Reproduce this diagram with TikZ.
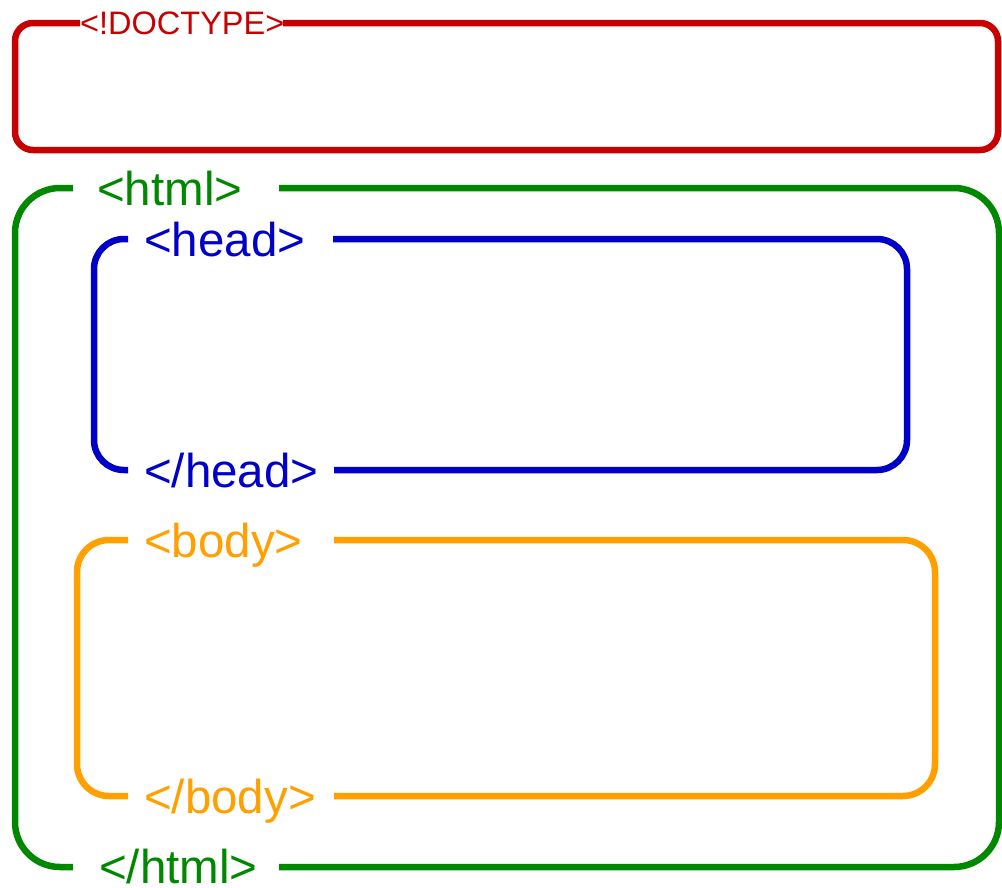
\documentclass[tikz,border=0pt]{standalone}
\usepackage{fontspec}
\setmainfont{Liberation Sans}
\definecolor{tagred}{RGB}{200,0,0}
\definecolor{taggreen}{RGB}{0,136,0}
\definecolor{tagblue}{RGB}{0,0,200}
\definecolor{tagorange}{RGB}{255,160,0}
\begin{document}
\begin{tikzpicture}[x=1pt,y=-1pt,
  frame/.style={line width=6.5pt,line cap=butt,line join=round},
  tag/.style={inner sep=0pt,anchor=base west,font=\fontsize{47.5}{50}\selectfont},
  smalltag/.style={inner sep=0pt,anchor=base west,font=\fontsize{32.5}{36}\selectfont}]
\useasboundingbox[fill=white] (0,0) rectangle (1002,887);
% DOCTYPE
\draw[frame,tagred,rounded corners=18] (283,23) -- (998,23) -- (998,150) -- (15,150) -- (15,23) -- (80,23);
\node[smalltag,text=tagred] (doctype) at (80,34.5) {<!DOCTYPE>};
% html
\draw[frame,taggreen,rounded corners=45] (279,188) -- (999,188) -- (999,867) -- (279,867);
\draw[frame,taggreen,rounded corners=45] (73,188) -- (15,188) -- (15,867) -- (73,867);
\node[tag,text=taggreen] (html) at (97,205) {<html>};
\node[tag,text=taggreen] (htmlend) at (99,883) {</html>};
% head
\draw[frame,tagblue,rounded corners=30] (333,239) -- (907,239) -- (907,470) -- (334,470);
\draw[frame,tagblue,rounded corners=30] (128,239) -- (94,239) -- (94,470) -- (128,470);
\node[tag,text=tagblue] (head) at (144,256) {<head>};
\node[tag,text=tagblue] (headend) at (144,487) {</head>};
% body
\draw[frame,tagorange,rounded corners=32] (334,540) -- (935,540) -- (935,796) -- (334,796);
\draw[frame,tagorange,rounded corners=32] (128,540) -- (77,540) -- (77,796) -- (128,796);
\node[tag,text=tagorange] (body) at (144,557) {<body>};
\node[tag,text=tagorange] (bodyend) at (144,813) {</body>};
\end{tikzpicture}
\end{document}
